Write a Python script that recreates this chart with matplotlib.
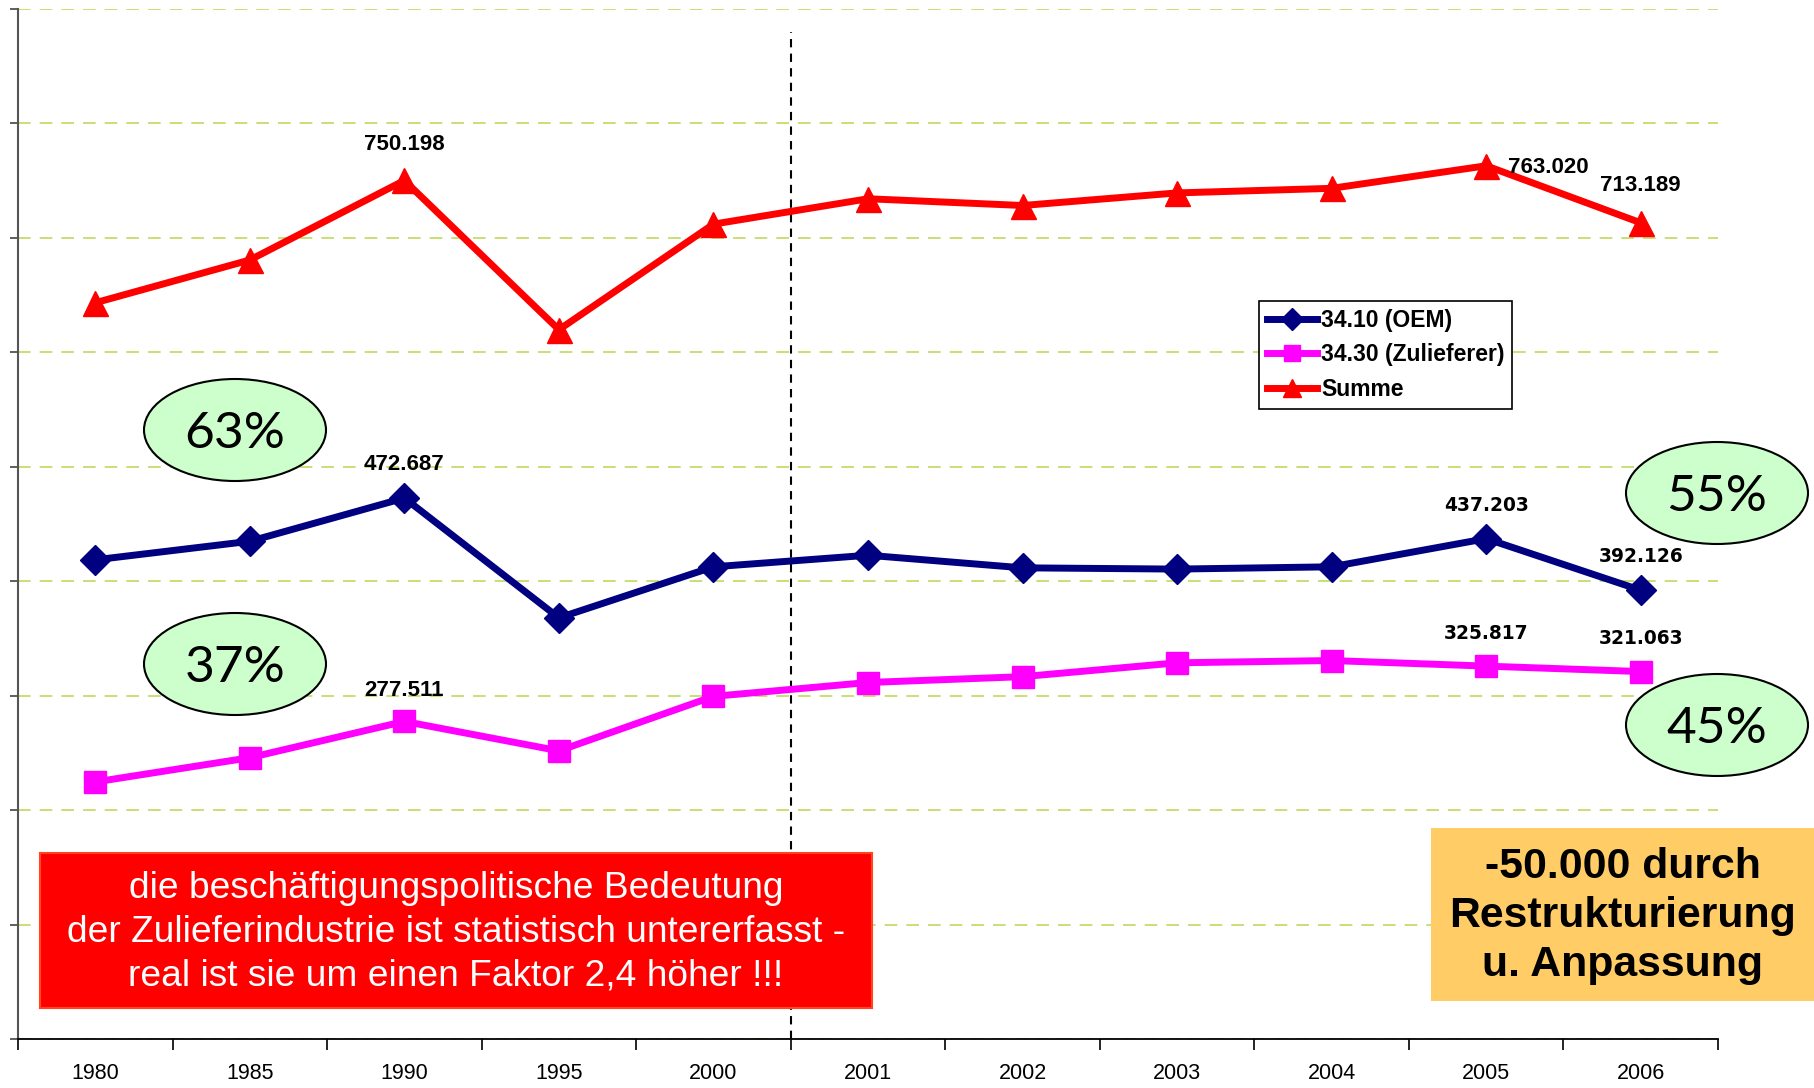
import numpy as np
import matplotlib
matplotlib.use('Agg')
import matplotlib.pyplot as plt
from matplotlib.patches import Ellipse, Rectangle

# Beschaeftigte Fahrzeugbau (WZ 34.10 / 34.30)
jahre = ['1980', '1985', '1990', '1995', '2000', '2001', '2002', '2003', '2004', '2005', '2006']
oem = [418700, 434900, 472687, 368000, 412600, 422700, 411700, 410600, 412600, 437203, 392126]
zulieferer = [224600, 245800, 277511, 251800, 299400, 311500, 316600, 328700, 330700, 325817, 321063]
summe = [643300, 680700, 750198, 619800, 712000, 734200, 728300, 739300, 743300, 763020, 713189]
namen = ['34.10 (OEM)', '34.30 (Zulieferer)', 'Summe']
anteile = ['63%', '37%', '55%', '45%']

W, H = 1814, 1088
plt.rcParams['font.family'] = ['Liberation Sans', 'DejaVu Sans']

def fx(x):
    return x / W

def fy(y):
    return 1 - y / H

def punkt(v):
    return f'{v:,}'.replace(',', '.')

fig = plt.figure(figsize=(W / 100, H / 100), dpi=100)
ax = fig.add_axes([fx(18), fy(1039), 1700 / W, 1030 / H])

x = np.arange(len(jahre))
ax.plot(x, oem, color='#000080', lw=5, marker='D', ms=15, label=namen[0], zorder=3)
ax.plot(x, zulieferer, color='#ff00ff', lw=5, marker='s', ms=16, label=namen[1], zorder=3)
ax.plot(x, summe, color='#ff0000', lw=5, marker='^', ms=18, label=namen[2], zorder=3)

ax.set_xlim(-0.5, len(jahre) - 0.5)
ax.set_ylim(0, 900000)
ax.set_yticks(np.arange(0, 900001, 100000))
ax.set_yticklabels([])
ax.grid(axis='y', color='#c4dc6a', ls=(0, (7, 5)), lw=1.3)
ax.set_axisbelow(True)

ax.set_xticks(x)
ax.set_xticklabels(jahre, fontsize=15.5)
ax.set_xticks(np.arange(-0.5, len(jahre)), minor=True)
ax.tick_params(axis='x', which='major', length=0, pad=17)
ax.tick_params(axis='x', which='minor', length=8, width=1.2, color='black')
ax.tick_params(axis='y', length=6, width=1.2, color='#444444')
for s in ['top', 'right']:
    ax.spines[s].set_visible(False)
ax.spines['left'].set_color('#555555')
ax.spines['left'].set_linewidth(1.5)
ax.spines['bottom'].set_linewidth(1.3)

ax.vlines(4.5, 0, 880000, color='black', ls=(0, (4, 3)), lw=1.5, zorder=2)

# Wertbeschriftungen
arial = dict(family='Liberation Sans', fontsize=16, fontweight='bold')
verdana = dict(family='DejaVu Sans', fontsize=13.4, fontweight='bold')
beschr = [
    (summe, 2, 0, 36, 'center', arial),
    (summe, 9, 22, -2, 'left', arial),
    (summe, 10, 0, 37, 'center', arial),
    (oem, 2, 0, 34, 'center', arial),
    (oem, 9, 0, 33, 'center', verdana),
    (oem, 10, 0, 34, 'center', verdana),
    (zulieferer, 2, 0, 31, 'center', arial),
    (zulieferer, 9, 0, 33, 'center', verdana),
    (zulieferer, 10, 0, 33, 'center', verdana),
]
for reihe, i, dx, dy, ha, font in beschr:
    ax.annotate(punkt(reihe[i]), (x[i], reihe[i]), xytext=(dx, dy),
                textcoords='offset pixels', ha=ha, va='center', zorder=4, **font)

leg = ax.legend(loc='upper left', bbox_to_anchor=((1259 - 18) / 1700, (1039 - 301) / 1030),
                borderaxespad=0, fancybox=False, framealpha=1, edgecolor='black',
                prop=dict(family='Liberation Sans', size=16.5, weight='bold'),
                handlelength=2.2, handletextpad=0.15, markerscale=0.75,
                borderpad=0.35, labelspacing=0.5)
leg.get_frame().set_linewidth(1.2)

# Anteile
for (cx, cy), txt in zip([(235, 430), (235, 664), (1717, 493), (1717, 725)], anteile):
    fig.add_artist(Ellipse((fx(cx), fy(cy)), 182 / W, 102 / H, transform=fig.transFigure,
                           facecolor='#ccffcc', edgecolor='black', lw=1.5, zorder=5))
    fig.text(fx(cx), fy(cy + 4), txt, family='Lato', fontsize=37, ha='center', va='center', zorder=6)

# Hinweiskasten rot
fig.add_artist(Rectangle((fx(40), fy(1008)), 832 / W, 155 / H, transform=fig.transFigure,
                         facecolor='#ff0000', edgecolor='#ff4422', lw=1.5, zorder=5))
fig.text(fx(456), fy(932), 'die beschäftigungspolitische Bedeutung\n'
         'der Zulieferindustrie ist statistisch untererfasst -\n'
         'real ist sie um einen Faktor 2,4 höher !!!',
         color='white', fontsize=26.7, ha='center', va='center', linespacing=1.32, zorder=6)

# Hinweiskasten orange
fig.add_artist(Rectangle((fx(1431), fy(1001)), 383 / W, 173 / H, transform=fig.transFigure,
                         facecolor='#ffcc66', edgecolor='none', zorder=5))
fig.text(fx(1623), fy(916), '-50.000 durch\nRestrukturierung\nu. Anpassung',
         color='black', fontsize=30.8, fontweight='bold', ha='center', va='center',
         linespacing=1.29, zorder=6)

fig.savefig('out.png', dpi=100)
